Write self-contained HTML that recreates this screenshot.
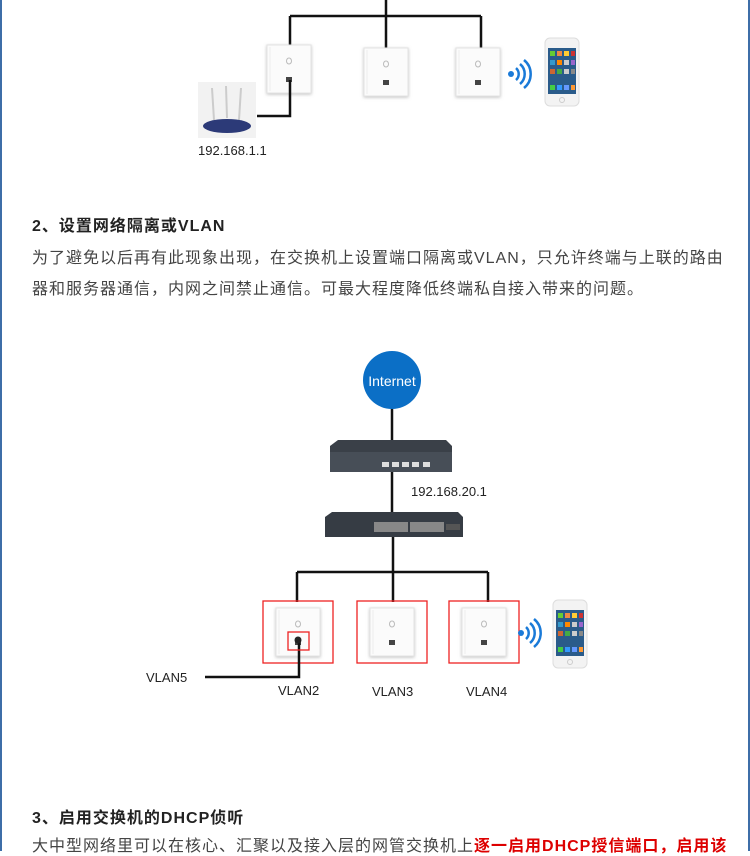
<!DOCTYPE html>
<html><head><meta charset="utf-8"><style>
html,body{margin:0;padding:0;background:#fff;}
body{width:750px;height:851px;position:relative;overflow:hidden;font-family:"Liberation Sans","Noto Sans CJK SC",sans-serif;}
.t{position:absolute;white-space:nowrap;color:#333;}
.h{font-weight:bold;font-size:16px;letter-spacing:1px;color:#222;}
.p{font-size:16px;letter-spacing:1px;color:#444;}
.l{font-size:13px;color:#222;}
</style></head><body>
<div style="position:absolute;left:0;top:0;width:2px;height:851px;background:#3d6ea8"></div>
<div style="position:absolute;right:0;top:0;width:2px;height:851px;background:#3d6ea8"></div>
<svg width="750" height="851" style="position:absolute;left:0;top:0">
<defs>
<filter id="sh" x="-20%" y="-20%" width="140%" height="140%"><feDropShadow dx="0" dy="1" stdDeviation="1.5" flood-color="#999" flood-opacity="0.6"/></filter>
<g id="ap">
<rect x="0" y="0" width="44" height="48" fill="#fbfbfb" stroke="#e3e3e3" filter="url(#sh)"/>
<line x1="3" y1="2" x2="3" y2="46" stroke="#eee"/>
<ellipse cx="22" cy="16" rx="2.5" ry="3" fill="none" stroke="#bbb"/>
<rect x="19" y="32" width="6" height="5" fill="#444"/>
</g>
<g id="phone">
<rect x="0" y="0" width="34" height="68" rx="5" fill="#f3f3f3" stroke="#ddd"/>
<rect x="3" y="10" width="28" height="46" fill="#2a5b8a"/>
<rect x="5" y="13" width="5" height="5" fill="#6c3"/><rect x="12" y="13" width="5" height="5" fill="#e84"/><rect x="19" y="13" width="5" height="5" fill="#fc3"/><rect x="26" y="13" width="4" height="5" fill="#c33"/>
<rect x="5" y="22" width="5" height="5" fill="#39c"/><rect x="12" y="22" width="5" height="5" fill="#f80"/><rect x="19" y="22" width="5" height="5" fill="#ccc"/><rect x="26" y="22" width="4" height="5" fill="#96c"/>
<rect x="5" y="31" width="5" height="5" fill="#c63"/><rect x="12" y="31" width="5" height="5" fill="#4a4"/><rect x="19" y="31" width="5" height="5" fill="#ccc"/><rect x="26" y="31" width="4" height="5" fill="#888"/>
<rect x="5" y="47" width="5" height="5" fill="#4c4"/><rect x="12" y="47" width="5" height="5" fill="#39f"/><rect x="19" y="47" width="5" height="5" fill="#69f"/><rect x="26" y="47" width="4" height="5" fill="#f93"/>
<circle cx="17" cy="62" r="2.5" fill="none" stroke="#ccc"/>
</g>
<g id="wifi" fill="none" stroke="#1a7ad8" stroke-width="2.5">
<circle cx="3" cy="0" r="3" fill="#1a7ad8" stroke="none"/>
<path d="M8,-6 A8,8 0 0 1 8,6"/><path d="M12,-10 A13,13 0 0 1 12,10"/><path d="M16,-14 A18,18 0 0 1 16,14"/>
</g>
</defs>
<g stroke="#111" stroke-width="2.5" fill="none">
<path d="M386,0 V16 M290,16 H481 M290,16 V46 M386,16 V48 M481,16 V48"/>
</g>
<use href="#ap" x="267" y="45"/>
<use href="#ap" x="364" y="48"/>
<use href="#ap" x="456" y="48"/>
<path d="M257,116 H290 V80" stroke="#111" stroke-width="2.5" fill="none"/>
<rect x="198" y="82" width="58" height="56" fill="#f2f2f2"/>
<g stroke="#ccc" stroke-width="2"><line x1="212" y1="88" x2="214" y2="120"/><line x1="226" y1="86" x2="227" y2="118"/><line x1="241" y1="88" x2="239" y2="120"/></g>
<ellipse cx="227" cy="126" rx="24" ry="7" fill="#2c3a78"/>
<use href="#wifi" x="508" y="74"/>
<use href="#phone" x="545" y="38"/>
<g stroke="#111" stroke-width="2.5" fill="none">
<path d="M392,400 V440 M392,472 V512 M393,536 V572 M297,572 H488 M297,572 V602 M393,572 V602 M488,572 V602"/>
</g>
<circle cx="392" cy="380" r="29" fill="#0b6fc6"/>
<text x="392" y="386" text-anchor="middle" font-family="Liberation Sans" font-size="14" fill="#fff">Internet</text>
<path d="M338,440 L446,440 L452,446 L452,472 L330,472 L330,446 Z" fill="#3a4048"/>
<rect x="330" y="452" width="122" height="20" fill="#474e57"/>
<g fill="#ddd"><rect x="382" y="462" width="7" height="5"/><rect x="392" y="462" width="7" height="5"/><rect x="402" y="462" width="7" height="5"/><rect x="412" y="462" width="7" height="5"/><rect x="423" y="462" width="7" height="5"/></g>
<path d="M332,512 L458,512 L463,517 L463,537 L325,537 L325,517 Z" fill="#363c44"/>
<g fill="#888"><rect x="374" y="522" width="34" height="10"/><rect x="410" y="522" width="34" height="10"/><rect x="446" y="524" width="14" height="6" fill="#555"/></g>
<g fill="none" stroke="#ee2222" stroke-width="1.3">
<rect x="263" y="601" width="70" height="62"/><rect x="357" y="601" width="70" height="62"/><rect x="449" y="601" width="70" height="62"/>
</g>
<use href="#ap" x="276" y="608"/>
<use href="#ap" x="370" y="608"/>
<use href="#ap" x="462" y="608"/>
<path d="M299,640 V677 H205" stroke="#111" stroke-width="2.5" fill="none"/>
<circle cx="298" cy="640" r="3.5" fill="#222"/>
<rect x="288" y="632" width="21" height="18" fill="none" stroke="#ee2222" stroke-width="1.3"/>
<use href="#wifi" x="518" y="633"/>
<use href="#phone" x="553" y="600"/>
</svg>
<div class="t l" style="left:198px;top:143px">192.168.1.1</div>
<div class="t h" style="left:32px;top:212px">2、设置网络隔离或VLAN</div>
<div class="t p" style="left:32px;top:244px">为了避免以后再有此现象出现，在交换机上设置端口隔离或VLAN，只允许终端与上联的路由</div>
<div class="t p" style="left:32px;top:275px">器和服务器通信，内网之间禁止通信。可最大程度降低终端私自接入带来的问题。</div>
<div class="t l" style="left:411px;top:484px">192.168.20.1</div>
<div class="t l" style="left:146px;top:670px">VLAN5</div>
<div class="t l" style="left:278px;top:683px">VLAN2</div>
<div class="t l" style="left:372px;top:684px">VLAN3</div>
<div class="t l" style="left:466px;top:684px">VLAN4</div>
<div class="t h" style="left:32px;top:804px">3、启用交换机的DHCP侦听</div>
<div class="t p" style="left:32px;top:832px">大中型网络里可以在核心、汇聚以及接入层的网管交换机上<span style="color:#d00;font-weight:bold">逐一启用DHCP授信端口，启用该</span></div>
</body></html>
